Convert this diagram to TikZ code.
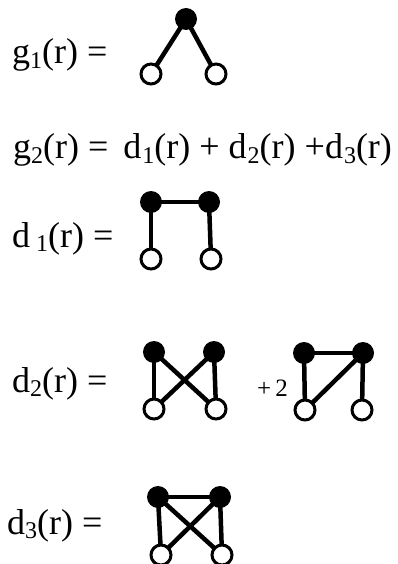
\documentclass[tikz,border=0pt]{standalone}
\usepackage{fontspec}
\setmainfont{Liberation Serif}
\usetikzlibrary{backgrounds}
\newcommand\dsub[1]{\raisebox{-0.12em}{\fontsize{24}{24}\selectfont #1}}
\tikzset{
  lbl/.style={anchor=base west, inner sep=0pt, font=\fontsize{36}{40}\selectfont},
  small/.style={anchor=base west, inner sep=0pt, font=\fontsize{25}{28}\selectfont},
  bnode/.style={circle, fill=black, inner sep=0pt, minimum size=22pt},
  onode/.style={circle, draw=black, fill=white, line width=3pt, inner sep=0pt, minimum size=20pt},
  edge/.style={line width=4.5pt}
}
\begin{document}
\begin{tikzpicture}[x=1pt,y=-1pt]
\useasboundingbox (0,0) rectangle (398,564);
% g1
\node[lbl] (tg1) at (12,64) {g\dsub{1}(r) =};
\node[bnode] (g1a) at (186,19) {};
\node[onode] (g1b) at (151,74) {};
\node[onode] (g1c) at (216,74) {};
% g2 line
\node[lbl] (tg2) at (13,159) {g\dsub{2}(r) = \,d\hspace{1pt}\dsub{1}(r) + d\hspace{1pt}\dsub{2}(r) +d\hspace{1pt}\dsub{3}(r)};
% d1
\node[lbl] (td1) at (12,247) {d\,\dsub{1}(r) =};
\node[bnode] (d1a) at (151,202) {};
\node[bnode] (d1b) at (209,202) {};
\node[onode] (d1c) at (151,259) {};
\node[onode] (d1d) at (211,259) {};
% d2
\node[lbl] (td2) at (12,392) {d\dsub{2}(r) =};
\node[bnode] (d2a) at (154,352) {};
\node[bnode] (d2b) at (214,352) {};
\node[onode] (d2c) at (154,409) {};
\node[onode] (d2d) at (216,409) {};
\node[small] (plus) at (257,396) {+\,2};
\node[bnode] (d2e) at (304,353) {};
\node[bnode] (d2f) at (363,353) {};
\node[onode] (d2g) at (305,410) {};
\node[onode] (d2h) at (362,410) {};
% d3
\node[lbl] (td3) at (7,534) {d\dsub{3}(r) =};
\node[bnode] (d3a) at (158,497) {};
\node[bnode] (d3b) at (220,497) {};
\node[onode] (d3c) at (161,555) {};
\node[onode] (d3d) at (222,555) {};
\begin{scope}[on background layer]
\draw[edge] (g1a.center) -- (g1b.center);
\draw[edge] (g1a.center) -- (g1c.center);
\draw[edge] (d1a.center) -- (d1b.center);
\draw[edge] (d1a.center) -- (d1c.center);
\draw[edge] (d1b.center) -- (d1d.center);
\draw[edge] (d2a.center) -- (d2c.center);
\draw[edge] (d2b.center) -- (d2d.center);
\draw[edge] (d2a.center) -- (d2d.center);
\draw[edge] (d2b.center) -- (d2c.center);
\draw[edge] (d2e.center) -- (d2f.center);
\draw[edge] (d2e.center) -- (d2g.center);
\draw[edge] (d2f.center) -- (d2h.center);
\draw[edge] (d2f.center) -- (d2g.center);
\draw[edge] (d3a.center) -- (d3b.center);
\draw[edge] (d3a.center) -- (d3c.center);
\draw[edge] (d3b.center) -- (d3d.center);
\draw[edge] (d3a.center) -- (d3d.center);
\draw[edge] (d3b.center) -- (d3c.center);
\end{scope}
\end{tikzpicture}
\end{document}
